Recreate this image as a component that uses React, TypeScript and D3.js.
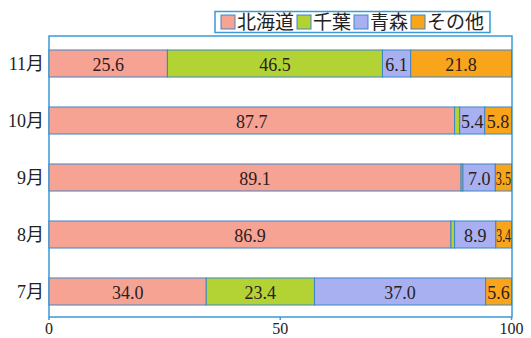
import React from "react";
import * as d3 from "d3";

// Monthly share (%) by production region
const months = ["11月", "10月", "9月", "8月", "7月"];
const regions = ["北海道", "千葉", "青森", "その他"];
const hokkaido = [25.6, 87.7, 89.1, 86.9, 34.0];
const chiba = [46.5, 1.1, 0.4, 0.8, 23.4];
const aomori = [6.1, 5.4, 7.0, 8.9, 37.0];
const others = [21.8, 5.8, 3.5, 3.4, 5.6];
const xTicks = [0, 50, 100];

const colors = ["#F7A394", "#B3D334", "#A8B0F2", "#F9A51B"];
const frameColor = "#3A9BD8";
const barStroke = "#3C86C6";

const W = 531;
const H = 338;
const left = 49;
const right = 511.5;
const top = 36;
const bottom = 317;

export default function App() {
  const series = [hokkaido, chiba, aomori, others];
  const table = months.map((m, i) => {
    const row: Record<string, any> = { month: m };
    regions.forEach((r, k) => (row[r] = series[k][i]));
    return row;
  });
  const stacked = d3.stack<any>().keys(regions)(table);

  const x = d3.scaleLinear().domain([0, 100]).range([left, right]);
  const y = d3
    .scaleBand<string>()
    .domain(months)
    .range([35, 320])
    .paddingInner(0.526)
    .paddingOuter(0.263);

  const serif = "'Liberation Serif', 'Times New Roman', 'Noto Sans CJK JP', serif";
  const legendFont = "'Noto Sans CJK JP', sans-serif";
  const legendSize = 19;
  const labelSize = 18;

  // approximate rendered width of a numeric label in the serif face
  const labelWidth = (s: string) =>
    s.split("").reduce((w, c) => w + (c === "." ? 0.25 : 0.5), 0) * labelSize;

  // legend layout: swatch + text, laid out sequentially
  let lx = 221;
  const legendItems = regions.map((r, k) => {
    const item = { name: r, color: colors[k], sx: lx, tx: lx + 16 };
    lx += 16 + r.length * legendSize + 3;
    return item;
  });

  return (
    <svg
      width={W}
      height={H}
      style={{ position: "absolute", left: 0, top: 0, background: "#fff" }}
    >
      {/* plot frame */}
      <rect
        x={left}
        y={top}
        width={right - left + 0.5}
        height={bottom - top}
        fill="none"
        stroke={frameColor}
        strokeWidth={1.5}
      />

      {/* stacked bars */}
      {stacked.map((layer, k) => (
        <g key={layer.key}>
          {layer.map((d, i) => (
            <rect
              key={i}
              x={x(d[0])}
              y={y(months[i])}
              width={x(d[1]) - x(d[0])}
              height={y.bandwidth()}
              fill={colors[k]}
              stroke={barStroke}
              strokeWidth={1}
            />
          ))}
        </g>
      ))}

      {/* value labels, squeezed to fit narrow segments */}
      {stacked.map((layer, k) => (
        <g key={"l" + layer.key}>
          {layer.map((d, i) => {
            const v = series[k][i];
            if (v < 3) return null;
            const s = v.toFixed(1);
            const seg = x(d[1]) - x(d[0]);
            const natural = labelWidth(s);
            const fit = natural > seg - 1 ? Math.max(seg - 1, 12) : undefined;
            return (
              <text
                key={i}
                x={(x(d[0]) + x(d[1])) / 2}
                y={(y(months[i]) as number) + y.bandwidth() / 2 + 7}
                textAnchor="middle"
                fontFamily={serif}
                fontSize={labelSize}
                fill="#2a2020"
                textLength={fit}
                lengthAdjust={fit ? "spacingAndGlyphs" : undefined}
              >
                {s}
              </text>
            );
          })}
        </g>
      ))}

      {/* month labels */}
      {months.map((m) => (
        <text
          key={m}
          x={44}
          y={(y(m) as number) + y.bandwidth() / 2 + 6}
          textAnchor="end"
          fontFamily={serif}
          fontSize={18}
          fill="#222"
        >
          {m}
        </text>
      ))}

      {/* x axis ticks */}
      {xTicks.map((t) => (
        <g key={t}>
          <line
            x1={x(t)}
            x2={x(t)}
            y1={bottom}
            y2={bottom + 3}
            stroke={frameColor}
            strokeWidth={1.5}
          />
          <text
            x={x(t)}
            y={334}
            textAnchor="middle"
            fontFamily={serif}
            fontSize={16}
            fill="#222"
          >
            {t}
          </text>
        </g>
      ))}

      {/* legend */}
      <rect
        x={215}
        y={11.5}
        width={275}
        height={21}
        fill="#fff"
        stroke={frameColor}
        strokeWidth={1.5}
      />
      {legendItems.map((it) => (
        <g key={it.name}>
          <rect
            x={it.sx}
            y={15}
            width={14}
            height={14}
            fill={it.color}
            stroke={barStroke}
            strokeWidth={1}
          />
          <text
            x={it.tx}
            y={29}
            fontFamily={legendFont}
            fontSize={legendSize}
            fill="#222"
          >
            {it.name}
          </text>
        </g>
      ))}
    </svg>
  );
}
